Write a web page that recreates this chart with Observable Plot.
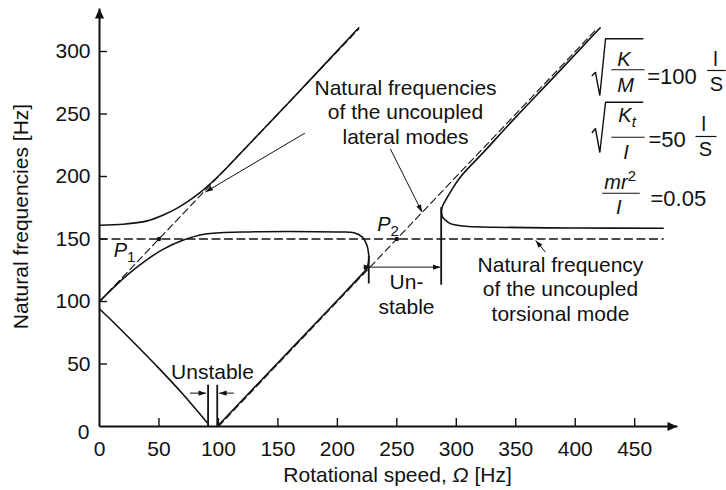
<!DOCTYPE html>
<html><head><meta charset="utf-8">
<script src="https://cdn.jsdelivr.net/npm/d3@7"></script>
<script src="https://cdn.jsdelivr.net/npm/@observablehq/plot@0.6"></script>
<style>
html,body{margin:0;padding:0;background:#fff;}
#chart svg{display:block;}
</style></head><body><div id="chart"></div>
<script>
// ---------- data: [rotational speed Ω (Hz), natural frequency (Hz)] ----------
const upperBranch = [[0,161],[20,161.8],[40,164.5],[55,169.8],[65,174.5],[75,180.5],[85,187.5],[95,195.8],[105,205],[115,215],[130,230],[160,260],[218,319]];
const middleBranch = [[0,100],[10,109.5],[25,122.5],[40,133.5],[53,141.5],[70,149],[89,154],[120,155.6],[160,156],[200,155.6],[214,155],[221,151.5],[224.5,146],[226.3,138],[226.2,131.5],[224.5,126],[222.3,123.5],[202.7,103.6],[150,51],[99,0]];
const lowerLeftBranch = [[0,94],[10,85],[30,66],[50,46.5],[70,26],[90.6,3]];
const rightBranch = [[421,319],[380,277.5],[350,247.5],[323,219.5],[303.5,199.6],[295,187.5],[290.9,180.8],[288.3,176],[287.5,172],[288.5,167.5],[291,165],[295,162.3],[302,160.8],[310,160],[330,159.4],[400,158.8],[474,158.6]];
const torsionalUncoupled = [[0,150],[474,150]];
const lateralForward = [[0,100],[218,318]];
const lateralBackward = [[100,0],[418,318]];
const intersections = [[50,150],[250,150]];
const unstableBounds = [[91.3,0,33],[99,0,33],[226.4,114,136],[287.3,113,175]]; // x, y1, y2
const xTicks = [0,50,100,150,200,250,300,350,400,450];
const yTicks = [0,50,100,150,200,250,300];
const xMax = 486, yMax = 336;

// ---------- annotations (data units) ----------
const arrows = [
  {x1:228.5,y1:127.5,x2:286.7,y2:127.5,both:true},   // Un-stable range
  {x1:76,y1:26.7,x2:89.6,y2:26.7,both:false},        // -> |
  {x1:113,y1:26.7,x2:100.6,y2:26.7,both:false},      // | <-
  {x1:244.6,y1:222,x2:271.2,y2:171.5,both:false},    // to lateral backward
  {x1:172.7,y1:234.7,x2:89.1,y2:187.6,both:false},   // to lateral forward
  {x1:375,y1:139.5,x2:366.7,y2:148.9,both:false}     // to torsional
];
const labels = [
  {x:257.3,y:226.2,text:"Natural frequencies\nof the uncoupled\nlateral modes",lh:1.17},
  {x:387.6,y:84.8,text:"Natural frequency\nof the uncoupled\ntorsional mode",lh:1.15},
  {x:258.1,y:90.2,text:"Un-\nstable",lh:1.2},
  {x:95,y:38.2,text:"Unstable",lh:1}
];
const pointLabels = [{x:12,y:135.4,text:"P1"},{x:233.5,y:156.8,text:"P2"}];
const formulaText = [
  {x:440.9,y:288.8,text:"K",it:true},{x:442.3,y:267.4,text:"M",it:true},
  {x:518,y:288.8,text:"l"},{x:518.8,y:268.8,text:"S"},
  {x:443.6,y:243.4,text:"Kt"},{x:442.7,y:214.2,text:"I",it:true},
  {x:508.1,y:236.8,text:"l"},{x:509.5,y:216.8,text:"S"},
  {x:437.8,y:190.2,text:"mr2"},{x:436.7,y:170.2,text:"I",it:true}
];
const formulaValues = [
  {x:460.5,y:274.4,text:"=100"},{x:461.6,y:223.4,text:"=50"},{x:463.3,y:176.8,text:"=0.05"}
];
const fractionBars = [[430.3,458.3,285.4],[511,526.5,284.8],[430.3,458.3,231.4],[501.1,518.8,232],[422.7,454.3,186.6]];
const radicals = [
  {id:1,x:414.3,y:280.8},{id:1,x:417,y:283.4},{id:1,x:420.7,y:264.8},{id:1,x:425.5,y:310.2},{id:1,x:456.8,y:310.2},
  {id:2,x:414.3,y:235.2},{id:2,x:417,y:238.4},{id:2,x:420.7,y:219.2},{id:2,x:425.5,y:259.4},{id:2,x:456.8,y:259.4}
];

const ink = "#111";
const font = "'Liberation Sans', Arial, Helvetica, sans-serif";

const plot = Plot.plot({
  width: 726, height: 490,
  marginLeft: 99, marginRight: 49, marginTop: 6, marginBottom: 64,
  x: {domain: [0, xMax], axis: null},
  y: {domain: [0, yMax], axis: null},
  style: {fontFamily: font, fontSize: "21px", color: ink, background: "#fff", overflow: "visible"},
  marks: [
    // dashed uncoupled lines
    Plot.line(torsionalUncoupled, {x: d => d[0], y: d => d[1], stroke: ink, strokeWidth: 1.3, strokeDasharray: "8,4.5"}),
    Plot.line(lateralForward, {x: d => d[0], y: d => d[1], stroke: ink, strokeWidth: 1.1, strokeDasharray: "7,4"}),
    Plot.line(lateralBackward, {x: d => d[0], y: d => d[1], stroke: ink, strokeWidth: 1.1, strokeDasharray: "7,4"}),
    // coupled natural frequencies
    Plot.line(upperBranch, {x: d => d[0], y: d => d[1], stroke: ink, strokeWidth: 1.6, curve: "catmull-rom"}),
    Plot.line(middleBranch, {x: d => d[0], y: d => d[1], stroke: ink, strokeWidth: 1.6, curve: "catmull-rom"}),
    Plot.line(lowerLeftBranch, {x: d => d[0], y: d => d[1], stroke: ink, strokeWidth: 1.6, curve: "catmull-rom"}),
    Plot.line(rightBranch, {x: d => d[0], y: d => d[1], stroke: ink, strokeWidth: 1.6, curve: "catmull-rom"}),
    Plot.ruleX(unstableBounds, {x: d => d[0], y1: d => d[1], y2: d => d[2], stroke: ink, strokeWidth: 1.8}),
    Plot.dot(intersections, {x: d => d[0], y: d => d[1], r: 2.2, fill: ink}),
    // annotation arrows
    Plot.link(arrows.filter(d => d.both), {x1: "x1", y1: "y1", x2: "x2", y2: "y2", stroke: ink, strokeWidth: 1, markerStart: "arrow", markerEnd: "arrow"}),
    Plot.link(arrows.filter(d => !d.both), {x1: "x1", y1: "y1", x2: "x2", y2: "y2", stroke: ink, strokeWidth: 1, markerEnd: "arrow"}),
    // axes
    Plot.link([{x1: 0, y1: 0, x2: 0, y2: 334.4}, {x1: 0, y1: 0, x2: xMax, y2: 0}], {x1: "x1", y1: "y1", x2: "x2", y2: "y2", stroke: ink, strokeWidth: 2, markerEnd: "arrow"}),
    Plot.axisX(xTicks.filter(d => d > 0), {anchor: "bottom", tickSize: 8, dy: -8, tickFormat: () => "", label: null, strokeWidth: 1.4}),
    Plot.axisY(yTicks.filter(d => d > 0), {anchor: "left", tickSize: 8, dx: 8, tickFormat: () => "", label: null, strokeWidth: 1.4}),
    Plot.text(xTicks, {x: d => d, frameAnchor: "bottom", dy: 29, lineAnchor: "bottom", text: d => String(d), fill: ink}),
    Plot.text(yTicks.filter(d => d > 0), {y: d => d, frameAnchor: "left", dx: -9, textAnchor: "end", lineAnchor: "middle", text: d => String(d), fill: ink}),
    Plot.text(yTicks.filter(d => d === 0), {y: d => d, frameAnchor: "left", dx: -10, dy: 5.5, textAnchor: "end", lineAnchor: "middle", text: d => String(d), fill: ink}),
    Plot.text(["Natural frequencies [Hz]"], {frameAnchor: "left", dx: -78, rotate: -90, lineAnchor: "middle", textAnchor: "middle", fill: ink}),
    Plot.text(["Rotational speed, Ω [Hz]"], {frameAnchor: "bottom", dx: 9, dy: 55, lineAnchor: "bottom", textAnchor: "middle", fill: ink}),
    // labels
    ...labels.map(l => Plot.text([l], {x: "x", y: "y", text: "text", lineAnchor: "bottom", textAnchor: "middle", lineHeight: l.lh, fill: ink})),
    Plot.text(pointLabels, {x: "x", y: "y", text: "text", lineAnchor: "bottom", textAnchor: "start", fill: ink, fontSize: 20}),
    // formulas
    Plot.line(radicals, {x: "x", y: "y", z: "id", stroke: ink, strokeWidth: 1.4, strokeLinejoin: "miter"}),
    Plot.link(fractionBars, {x1: d => d[0], x2: d => d[1], y1: d => d[2], y2: d => d[2], stroke: ink, strokeWidth: 1.2}),
    Plot.text(formulaText.filter(d => d.it), {x: "x", y: "y", text: "text", lineAnchor: "bottom", textAnchor: "middle", fontStyle: "italic", fontSize: 20, fill: ink}),
    Plot.text(formulaText.filter(d => !d.it), {x: "x", y: "y", text: "text", lineAnchor: "bottom", textAnchor: "middle", fontSize: 20, fill: ink}),
    Plot.text(formulaValues, {x: "x", y: "y", text: "text", lineAnchor: "bottom", textAnchor: "start", fontSize: 22, fill: ink})
  ]
});

// ---- rich text (italics, sub/superscripts) ----
const rich = {
  "P1": [{t: "P", it: 1}, {t: "1", sh: 5}],
  "P2": [{t: "P", it: 1}, {t: "2", sh: 5}],
  "Rotational speed, Ω [Hz]": [{t: "Rotational speed, "}, {t: "Ω", it: 1}, {t: " [Hz]"}],
  "Kt": [{t: "K", it: 1}, {t: "t", it: 1, sh: 5}],
  "mr2": [{t: "mr", it: 1}, {t: "2", sh: -8}]
};
const NS = "http://www.w3.org/2000/svg";
plot.querySelectorAll("text").forEach(el => {
  if (el.children.length) return;
  const segs = rich[el.textContent];
  if (!segs) return;
  el.textContent = "";
  let cur = 0;
  for (const s of segs) {
    const ts = document.createElementNS(NS, "tspan");
    ts.textContent = s.t;
    if (s.it) ts.setAttribute("font-style", "italic");
    const target = s.sh || 0;
    if (target !== cur) { ts.setAttribute("dy", target - cur); cur = target; }
    if (s.sh) ts.setAttribute("font-size", "15");
    el.appendChild(ts);
  }
});

// ---- filled arrowheads ----
plot.querySelectorAll("marker").forEach(m => {
  const g = m.parentNode;
  const sw = +(g.getAttribute("stroke-width") || 1);
  const axis = sw >= 1.8;
  const len = axis ? 10 : 7.5;   // px
  m.setAttribute("viewBox", "-10 -5 10 10");
  m.setAttribute("markerWidth", len / sw);
  m.setAttribute("markerHeight", len / sw);
  m.setAttribute("fill", ink);
  m.setAttribute("stroke", "none");
  m.setAttribute("overflow", "visible");
  m.innerHTML = "";
  const p = document.createElementNS(NS, "path");
  p.setAttribute("d", axis ? "M-10,-4.6L0,0L-10,4.6Z" : "M-10,-3.4L0,0L-10,3.4Z");
  m.appendChild(p);
});

document.getElementById("chart").appendChild(plot);
</script></body></html>
